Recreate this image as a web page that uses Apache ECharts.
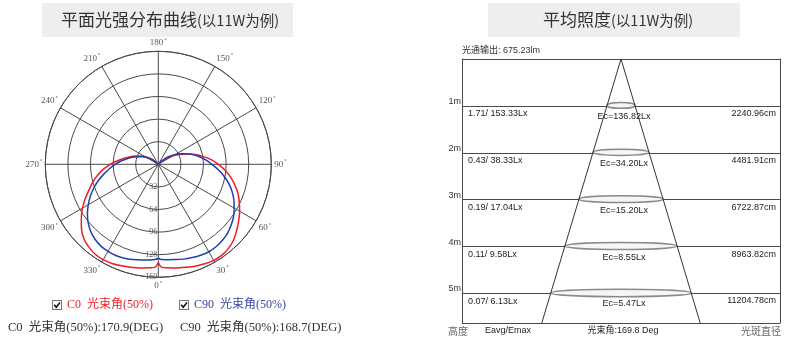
<!DOCTYPE html>
<html><head><meta charset="utf-8">
<script src="https://cdn.jsdelivr.net/npm/echarts@6/dist/echarts.min.js"></script>
<style>html,body{margin:0;padding:0;background:#fff}#c{width:790px;height:339px}</style>
</head><body><div id="c"></div>
<script>
// ===== Polar intensity distribution =====
const c0Angles  = [0,2,5,10,15,20,25,30,35,40,45,50,55,60,65,70,75,80,85,90,95,100,105,110,115,120,125,130,134,224,230,235,240,245,250,255,260,265,270,275,280,285,290,295,300,305,310,315,320,325,330,335,340,345,350,355,358,360];
const c0Values  = [139,146,147,149,151,153.5,155.5,157,157,155,151,145,139,133,126.5,120,112,104,95,85,75,64.5,54,43,33,24,14,5,0,0,9,15,22,28,34,41,49,58,68,78,87,96,104,114,124,133,142,149,153,155.5,156,155,153,151,149,147,146,139];
const c90Angles = [0,2,5,10,15,20,25,30,35,40,45,50,55,60,65,70,75,80,85,90,95,100,105,110,115,120,125,130,135,139,222,230,235,240,245,250,255,260,265,270,275,280,285,290,295,300,305,310,315,320,325,330,335,340,345,350,355,358,360];
const c90Values = [133,135,135.5,137,139,140.5,142,143,142.5,141,138.5,134.5,130,124,118,111,103,94,85,76,68,60,52,44,35,27,20,13,5,0,0,7,13,19,25,31,38,45,53,61,69,78,87.5,97,106,114.5,122.5,129.5,135,139,141.5,142.5,142.5,141.5,139.5,137.5,136,135,133];
const angleTicks = [0,30,60,90,120,150,180,210,240,270,300,330];
const radiusTicks = [32,64,96,128,160];
const seriesNames = ['C0  光束角(50%)', 'C90  光束角(50%)'];
const summaryTexts = ['C0  光束角(50%):170.9(DEG)', 'C90  光束角(50%):168.7(DEG)'];
const leftTitle = ['平面光强分布曲线', '(以11W为例)'];
const rightTitle = ['平均照度', '(以11W为例)'];

// ===== Average illuminance =====
const heights = [1,2,3,4,5];
const heightLabels = ['1m','2m','3m','4m','5m'];
const eavgEmax = ['1.71/ 153.33Lx','0.43/ 38.33Lx','0.19/ 17.04Lx','0.11/ 9.58Lx','0.07/ 6.13Lx'];
const ecValues = ['136.82','34.20','15.20','8.55','5.47'];
const spotDiameters = ['2240.96','4481.91','6722.87','8963.82','11204.78'];
const fluxText = '光通输出: 675.23lm';
const footerTexts = ['高度','Eavg/Emax','光束角:169.8 Deg','光斑直径'];

// schematic geometry (style)
const depthMax = 5.63, xHalf = 3.39, coneSlope = 0.3;

const chart = echarts.init(document.getElementById('c'), null, {renderer:'canvas'});
const serif = 'Liberation Serif, DejaVu Serif, Noto Sans CJK SC';
const sans = 'Liberation Sans, Arial, Noto Sans CJK SC';
const gridCol = '#4a4a4a';

const checkSvg = "data:image/svg+xml;charset=utf-8," + encodeURIComponent(
 "<svg xmlns='http://www.w3.org/2000/svg' width='10' height='10'><rect x='0.5' y='0.5' width='9' height='9' fill='#fff' stroke='#777'/><path d='M2.2 4.8 L4.2 7.3 L8 2.4' stroke='#111' stroke-width='1.6' fill='none'/></svg>");

const titleGroup = (x, cx, w, parts) => ({
  type:'group', children:[
    {type:'rect', shape:{x:x, y:3, width:w, height:34}, style:{fill:'#eeeeee'}},
    {type:'text', x:cx, y:20, style:{text:'{a|'+parts[0]+'}{b|'+parts[1]+'}', align:'center', verticalAlign:'middle',
      rich:{a:{fontSize:17, fontFamily:'Noto Sans CJK SC', fill:'#333'}, b:{fontSize:14.5, fontFamily:'Noto Sans CJK SC', fill:'#333'}}}}
  ]});

const option = {
  animation:false,
  backgroundColor:'#fff',
  polar:{center:[158.3,164.3], radius:113},
  angleAxis:{type:'value', min:0, max:360, interval:30, startAngle:270, clockwise:false,
    axisLine:{lineStyle:{color:gridCol, width:1}}, axisTick:{show:false},
    splitLine:{show:true, lineStyle:{color:gridCol, width:1}},
    axisLabel:{margin:3, formatter:v => angleTicks.indexOf(v) >= 0 ? '{n|'+v+'}{d|°}' : '',
      rich:{n:{fontSize:9, fontFamily:serif, color:'#555'}, d:{fontSize:6, color:'#555', verticalAlign:'top', padding:[0,0,5,1]}}}},
  radiusAxis:{type:'value', min:0, max:160, interval:32,
    axisLine:{show:false}, axisTick:{show:false},
    splitLine:{show:true, lineStyle:{color:gridCol, width:1}},
    axisLabel:{fontSize:8, fontFamily:serif, color:'#555', margin:-1, align:'right', verticalAlign:'middle',
      formatter:v => radiusTicks.indexOf(v) >= 0 ? String(v) : ''}},
  grid:{left:462, right:10, top:59, height:264},
  xAxis:{type:'value', min:-xHalf, max:xHalf, show:false},
  yAxis:[
    {type:'value', inverse:true, min:0, max:depthMax, interval:1, position:'left',
     axisLine:{show:true, onZero:false, lineStyle:{color:gridCol}}, axisTick:{show:false},
     splitLine:{show:true, lineStyle:{color:gridCol}},
     axisLabel:{margin:1, fontSize:9, fontFamily:sans, color:'#333', verticalAlign:'bottom',
       formatter:v => heightLabels[heights.indexOf(v)] || ''}},
    {type:'value', inverse:true, min:0, max:depthMax, interval:1, position:'right',
     axisLine:{show:true, onZero:false, lineStyle:{color:gridCol}}, axisTick:{show:false}, splitLine:{show:false}, axisLabel:{show:false}}
  ],
  legend:{left:47, top:294, itemWidth:10, itemHeight:10, itemGap:26, selectedMode:false,
    textStyle:{fontFamily:serif, fontSize:12},
    data:[{name:seriesNames[0], icon:'image://'+checkSvg, textStyle:{color:'#e8232b'}},
          {name:seriesNames[1], icon:'image://'+checkSvg, textStyle:{color:'#3a46a0'}}]},
  series:[
    {name:seriesNames[0], type:'line', coordinateSystem:'polar', showSymbol:false, smooth:0.3,
     lineStyle:{color:'#ee1c24', width:1.5}, itemStyle:{color:'#ee1c24'},
     data:c0Angles.map((a,i)=>[c0Values[i], a])},
    {name:seriesNames[1], type:'line', coordinateSystem:'polar', showSymbol:false, smooth:0.3,
     lineStyle:{color:'#1f3fae', width:1.5}, itemStyle:{color:'#1f3fae'},
     data:c90Angles.map((a,i)=>[c90Values[i], a])},
    {type:'line', xAxisIndex:0, yAxisIndex:0, showSymbol:false, silent:true,
     lineStyle:{color:'#333', width:1},
     data:[[-coneSlope*depthMax, depthMax],[0,0],[coneSlope*depthMax, depthMax]]},
    {type:'custom', xAxisIndex:0, yAxisIndex:0, silent:true,
     data:heights.map((h,i)=>[0,h,i]),
     renderItem:(params, api) => {
       const h = api.value(1), i = api.value(2);
       const c = api.coord([0,h]);
       const e = api.coord([coneSlope*h, h]);
       const l = api.coord([-xHalf, h]);
       const r = api.coord([xHalf, h]);
       const ry = 2.7 + 0.2*h;
       return {type:'group', children:[
         {type:'ellipse', shape:{cx:c[0], cy:c[1]-0.5, rx:e[0]-c[0], ry:ry}, style:{fill:'#f6f6f6', stroke:'#8a8a8a', lineWidth:1.5}},
         {type:'text', x:l[0]+6, y:c[1]+8, style:{text:eavgEmax[i], fontSize:9, fontFamily:sans, fill:'#222', verticalAlign:'middle'}},
         {type:'text', x:c[0]+3, y:c[1]+10.5, style:{text:'Ec='+ecValues[i]+'Lx', fontSize:9, fontFamily:sans, fill:'#222', align:'center', verticalAlign:'middle'}},
         {type:'text', x:r[0]-4, y:c[1]+7.5, style:{text:spotDiameters[i]+'cm', fontSize:9, fontFamily:sans, fill:'#222', align:'right', verticalAlign:'middle'}}
       ]};
     }}
  ],
  graphic:[
    titleGroup(42, 170, 251, leftTitle),
    titleGroup(488, 618, 252, rightTitle),
    {type:'text', x:8, y:328, style:{text:summaryTexts[0], fontSize:12.5, fontFamily:serif, fill:'#333', verticalAlign:'middle'}},
    {type:'text', x:180, y:328, style:{text:summaryTexts[1], fontSize:12.5, fontFamily:serif, fill:'#333', verticalAlign:'middle'}},
    {type:'text', x:462, y:51, style:{text:fluxText, fontSize:9, fontFamily:sans, fill:'#333', verticalAlign:'middle'}},
    {type:'text', x:448, y:331, style:{text:footerTexts[0], fontSize:10, fontFamily:'Noto Sans CJK SC', fill:'#666', verticalAlign:'middle'}},
    {type:'text', x:485, y:331, style:{text:footerTexts[1], fontSize:9, fontFamily:sans, fill:'#222', verticalAlign:'middle'}},
    {type:'text', x:623, y:331, style:{text:footerTexts[2], fontSize:9, fontFamily:sans, fill:'#222', align:'center', verticalAlign:'middle'}},
    {type:'text', x:781, y:331, style:{text:footerTexts[3], fontSize:10, fontFamily:'Noto Sans CJK SC', fill:'#666', align:'right', verticalAlign:'middle'}}
  ]
};
chart.setOption(option);
</script></body></html>
